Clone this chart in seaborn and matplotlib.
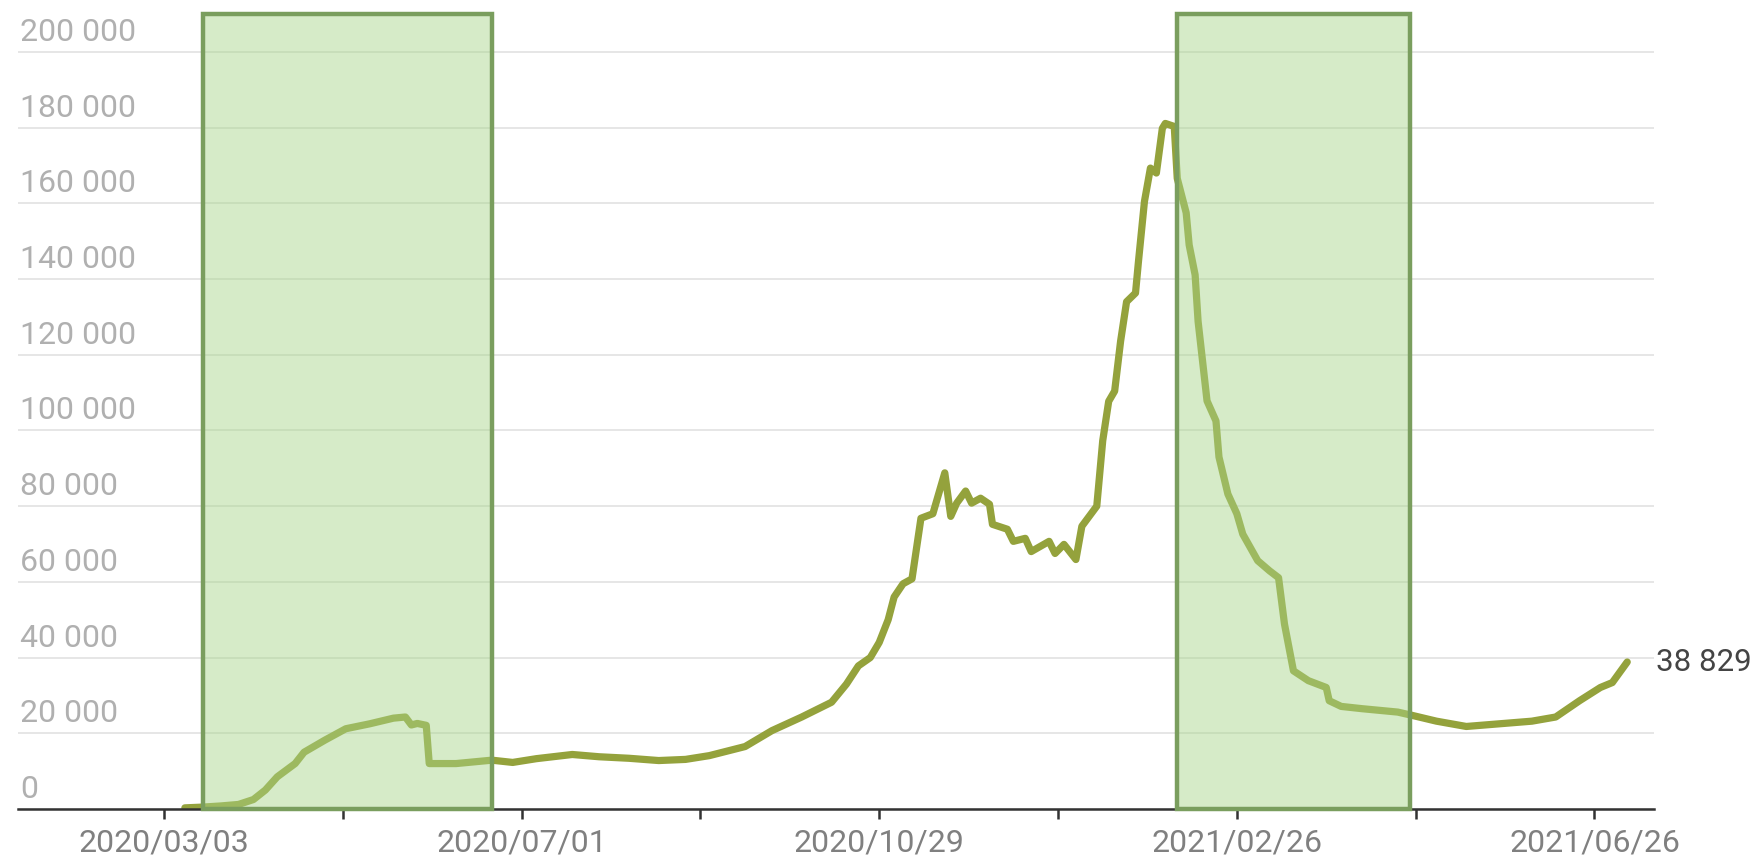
import pandas as pd
import matplotlib
import matplotlib.pyplot as plt
import matplotlib.transforms as mtransforms
import seaborn as sns

matplotlib.use('Agg')

# values
dates = [
    '2020-03-10', '2020-03-16', '2020-03-22', '2020-03-28', '2020-04-02', '2020-04-06',
    '2020-04-10', '2020-04-16', '2020-04-19', '2020-04-26', '2020-05-03', '2020-05-11',
    '2020-05-19', '2020-05-23', '2020-05-25', '2020-05-27', '2020-05-30', '2020-05-31',
    '2020-06-09', '2020-06-21', '2020-06-28', '2020-07-06', '2020-07-18', '2020-07-27',
    '2020-08-06', '2020-08-16', '2020-08-25', '2020-09-02', '2020-09-14', '2020-09-23',
    '2020-10-03', '2020-10-13', '2020-10-18', '2020-10-22', '2020-10-26', '2020-10-29',
    '2020-11-01', '2020-11-03', '2020-11-06', '2020-11-09', '2020-11-12', '2020-11-16',
    '2020-11-20', '2020-11-22', '2020-11-24', '2020-11-27', '2020-11-29', '2020-12-02',
    '2020-12-05', '2020-12-06', '2020-12-11', '2020-12-13', '2020-12-17', '2020-12-19',
    '2020-12-25', '2020-12-27', '2020-12-30', '2021-01-03', '2021-01-05', '2021-01-10',
    '2021-01-12', '2021-01-14', '2021-01-16', '2021-01-18', '2021-01-20', '2021-01-23',
    '2021-01-24', '2021-01-26', '2021-01-28', '2021-01-30', '2021-02-01', '2021-02-02',
    '2021-02-05', '2021-02-06', '2021-02-09', '2021-02-10', '2021-02-12', '2021-02-13',
    '2021-02-16', '2021-02-19', '2021-02-20', '2021-02-23', '2021-02-26', '2021-02-28',
    '2021-03-05', '2021-03-09', '2021-03-12', '2021-03-14', '2021-03-17', '2021-03-22',
    '2021-03-28', '2021-03-29', '2021-04-02', '2021-04-09', '2021-04-21', '2021-04-26',
    '2021-05-04', '2021-05-14', '2021-05-25', '2021-06-05', '2021-06-13', '2021-06-21',
    '2021-06-28', '2021-07-02', '2021-07-07',
]
cases = [
    300, 500, 800, 1200, 2500, 5000,
    8500, 12000, 15000, 18200, 21200, 22500,
    24000, 24300, 22200, 22600, 22100, 12000,
    12000, 12900, 12300, 13300, 14400, 13800,
    13400, 12800, 13100, 14100, 16500, 20700,
    24300, 28200, 33000, 37800, 40000, 44000,
    50000, 56000, 59500, 60800, 76800, 78000,
    88800, 77300, 80800, 84000, 80800, 82100,
    80500, 75200, 73900, 70700, 71500, 68000,
    70700, 67500, 69900, 65900, 74700, 80000,
    97300, 107700, 110400, 123600, 134000, 136300,
    144700, 160500, 169300, 168000, 179800, 181100,
    180300, 166600, 157500, 149000, 141100, 128800,
    107800, 102500, 93000, 83200, 78000, 72600,
    65600, 62900, 61100, 48800, 36500, 33900,
    32100, 28600, 27100, 26500, 25600, 24700,
    23200, 21800, 22500, 23200, 24300, 28600,
    32100, 33400, 38829,
]
last_label = '38 829'

span_starts = ['2020-03-16', '2021-02-06']
span_ends = ['2020-06-21', '2021-04-25']

x_ticks = ['2020-03-03', '2020-05-02', '2020-07-01', '2020-08-30', '2020-10-29',
           '2020-12-28', '2021-02-26', '2021-04-27', '2021-06-26']
x_tick_labels = ['2020/03/03', '', '2020/07/01', '', '2020/10/29',
                 '', '2021/02/26', '', '2021/06/26']
y_ticks = [0, 20000, 40000, 60000, 80000, 100000, 120000, 140000, 160000, 180000, 200000]
y_tick_labels = ['0', '20 000', '40 000', '60 000', '80 000', '100 000',
                 '120 000', '140 000', '160 000', '180 000', '200 000']

sns.set_theme(style='white')
plt.rcParams['font.family'] = ['Roboto', 'DejaVu Sans']

df = pd.DataFrame({'date': pd.to_datetime(dates), 'cases': cases})

fig = plt.figure(figsize=(17.63, 8.61), dpi=100)
ax = fig.add_axes([0.0102, 0.0604, 0.928, 0.9233])

sns.lineplot(data=df, x='date', y='cases', ax=ax, color='#94a23c', linewidth=5.2,
             solid_capstyle='round', solid_joinstyle='round', zorder=2)

for s, e in zip(span_starts, span_ends):
    ax.axvspan(pd.Timestamp(s), pd.Timestamp(e), facecolor=(0.66, 0.835, 0.54, 0.47),
               edgecolor='#7a9e5e', lw=3.2, zorder=3, clip_on=False)

ax.set_xlim(pd.Timestamp('2020-01-14'), pd.Timestamp('2021-07-16'))
ax.set_ylim(0, 210000)

ax.set_xticks(pd.to_datetime(x_ticks))
ax.set_xticklabels(x_tick_labels)
ax.tick_params(axis='x', length=7, width=1.8, color='#333333', pad=7,
               labelsize=23, labelcolor='#808080', bottom=True)

ax.set_yticks(y_ticks)
ax.set_yticklabels([])
ax.tick_params(axis='y', length=0)
ax.yaxis.grid(True, color='#e4e4e4', lw=1.3)
ax.xaxis.grid(False)

for side in ['left', 'top', 'right']:
    ax.spines[side].set_visible(False)
ax.spines['bottom'].set_color('#333333')
ax.spines['bottom'].set_linewidth(1.8)
ax.spines['bottom'].set_zorder(2.5)

label_tr = mtransforms.blended_transform_factory(ax.transAxes, ax.transData)
label_tr = label_tr + mtransforms.ScaledTranslation(0, 11 / 100, fig.dpi_scale_trans)
for v, lab in zip(y_ticks, y_tick_labels):
    ax.text(0.0012, v, lab, transform=label_tr, ha='left', va='baseline',
            fontsize=23, color='#b0b0b0')

ax.annotate(last_label, xy=(df['date'].iloc[-1], df['cases'].iloc[-1]),
            xytext=(21, 0), textcoords='offset points', va='center', ha='left',
            fontsize=22.5, color='#444444', annotation_clip=False)

ax.set_xlabel('')
ax.set_ylabel('')

fig.savefig('out.png', dpi=100)
plt.close(fig)
